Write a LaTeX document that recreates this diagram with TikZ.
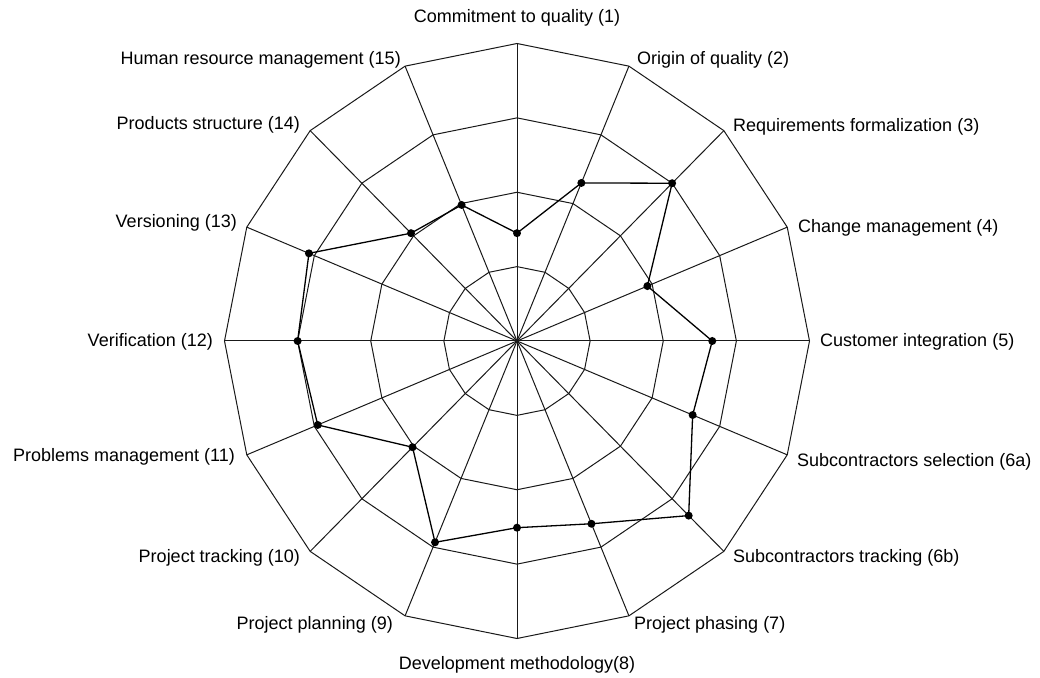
\documentclass[tikz,border=0pt]{standalone}
\usepackage{fontspec}
\setmainfont{Liberation Sans}
\begin{document}
\begin{tikzpicture}[x=1pt,y=1pt,
  gridline/.style={line width=1pt, draw=black!90},
  dataline/.style={line width=1.3pt, draw=black},
  datadot/.style={circle, fill=black, inner sep=0pt, minimum size=8pt},
  lab/.style={font=\fontsize{18}{20}\selectfont, inner sep=0pt, text=black}]
\useasboundingbox (0,0) rectangle (1040,677);
\fill[white] (0,0) rectangle (1040,677);
\coordinate (C) at (517,336);
% rings (16-gons)
\foreach \r in {1,2,3,4}{
  \draw[gridline] (517,{336+74.375*\r})
    \foreach \k in {1,...,15}{ -- ({517+73.125*\r*sin(22.5*\k)},{336+74.375*\r*cos(22.5*\k)}) } -- cycle;
}
% spokes
\foreach \k in {0,...,15}{
  \coordinate (o\k) at ({517+292.5*sin(22.5*\k)},{336+297.5*cos(22.5*\k)});
  \draw[gridline] (C) -- (o\k);
}
% data
\foreach \v [count=\i from 0] in {1.45,2.3,3.0,1.93,2.67,2.6,3.32,2.66,2.51,2.93,2.02,2.95,3.0,3.08,2.05,1.98}{
  \coordinate (d\i) at ({517+73.125*\v*sin(22.5*\i)},{336+74.375*\v*cos(22.5*\i)});
}
\draw[dataline] (d0) \foreach \i in {1,...,15}{ -- (d\i) } -- cycle;
\foreach \i in {0,...,15}{ \node[datadot] (p\i) at (d\i) {}; }
% labels
\node[lab] (l1)  at (517,659) {Commitment to quality (1)};
\node[lab, anchor=west] (l2)  at (637,617) {Origin of quality (2)};
\node[lab, anchor=west] (l3)  at (733,550) {Requirements formalization (3)};
\node[lab, anchor=west] (l4)  at (798,449) {Change management (4)};
\node[lab, anchor=west] (l5)  at (820,335) {Customer integration (5)};
\node[lab, anchor=west] (l6a) at (797,215) {Subcontractors selection (6a)};
\node[lab, anchor=west] (l6b) at (733,119) {Subcontractors tracking (6b)};
\node[lab, anchor=west] (l7)  at (634,52) {Project phasing (7)};
\node[lab] (l8)  at (517,12) {Development methodology(8)};
\node[lab, anchor=east] (l9)  at (393,52) {Project planning (9)};
\node[lab, anchor=east] (l10) at (300,119) {Project tracking (10)};
\node[lab, anchor=east] (l11) at (235,220) {Problems management (11)};
\node[lab, anchor=east] (l12) at (213,335) {Verification (12)};
\node[lab, anchor=east] (l13) at (237,454) {Versioning (13)};
\node[lab, anchor=east] (l14) at (300,552) {Products structure (14)};
\node[lab, anchor=east] (l15) at (401,617) {Human resource management (15)};
\end{tikzpicture}
\end{document}
